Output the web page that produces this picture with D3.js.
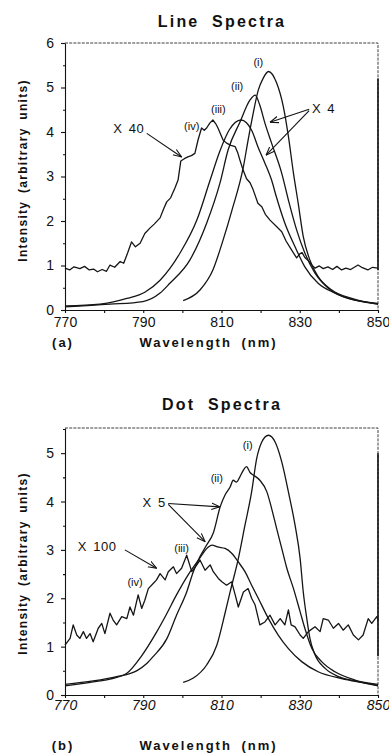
<!DOCTYPE html>
<html>
<head>
<meta charset="utf-8">
<script src="https://cdn.jsdelivr.net/npm/d3@7"></script>
<style>
  body { margin: 0; background: #fff; }
  svg { display: block; font-family: "Liberation Sans", Arial, Helvetica, sans-serif; }
  .curve { fill: none; stroke: #151515; stroke-width: 1.3; stroke-linejoin: round; }
  .axis path, .axis line { stroke: #111; stroke-width: 1.1; }
  .axis text { font-size: 14px; fill: #111; }
  .frame { fill: none; stroke: #2a2a2a; stroke-width: 0.9; stroke-dasharray: 3,1.2; }
  .edge-band { stroke: #111; stroke-width: 1.6; }
  .title { font-size: 16px; font-weight: bold; letter-spacing: 2.2px; word-spacing: 6px; fill: #111; }
  .axis-title { font-size: 13px; font-weight: bold; letter-spacing: 2px; word-spacing: 4px; fill: #111; }
  .y-title { font-size: 12px; font-weight: bold; letter-spacing: 1.3px; word-spacing: 3px; fill: #111; }
  .curve-label { font-size: 11px; fill: #111; }
  .factor { font-size: 13px; letter-spacing: 0.6px; word-spacing: 2px; fill: #111; }
  .arrow { stroke: #111; stroke-width: 1.1; fill: none; }
</style>
</head>
<body>
<div id="chart"></div>
<script>

// axis ticks
const xTicks = [770, 790, 810, 830, 850];
const xMinorTicks = [780, 800, 820, 840];
const lineYTicks = [0, 1, 2, 3, 4, 5, 6];
const dotYTicks = [0, 1, 2, 3, 4, 5];
const halfTicks = [0.5, 1.5, 2.5, 3.5, 4.5, 5.5];

// (a) Line spectra, [wavelength nm, intensity]
const lineCurveI = [
  [800.2, 0.21], [804.5, 0.45], [807.8, 0.90], [810.4, 1.57], [812.7, 2.25], [815.6, 3.22],
  [816.8, 3.82], [818.1, 4.42], [819.4, 4.94], [820.6, 5.20], [822.0, 5.36], [824.1, 5.10],
  [825.8, 4.57], [827.1, 3.90], [828.4, 3.07], [829.6, 2.40], [830.9, 1.65], [832.6, 1.12],
  [834.7, 0.75], [838.2, 0.45], [843.3, 0.26], [850.0, 0.13]
];
const lineCurveII = [
  [770.0, 0.07], [781.5, 0.13], [789.9, 0.19], [794.3, 0.38], [796.8, 0.60], [801.9, 1.12],
  [806.2, 1.95], [809.6, 2.85], [811.7, 3.60], [814.7, 4.22], [817.3, 4.72], [818.6, 4.83],
  [819.8, 4.60], [821.1, 4.20], [822.8, 3.75], [825.4, 3.07], [827.1, 2.47], [829.2, 1.80],
  [831.3, 1.28], [833.9, 0.83], [837.3, 0.49], [842.4, 0.26], [850.0, 0.15]
];
const lineCurveIII = [
  [770.0, 0.09], [778.9, 0.13], [785.8, 0.26], [790.4, 0.40], [794.3, 0.67], [799.4, 1.28],
  [803.7, 2.02], [807.1, 2.92], [809.5, 3.55], [812.0, 4.05], [815.0, 4.27], [817.7, 4.04],
  [819.3, 3.67], [821.1, 3.30], [822.8, 2.92], [824.0, 2.55], [826.2, 1.95], [828.8, 1.42],
  [831.3, 0.97], [834.7, 0.60], [839.0, 0.38], [844.1, 0.22], [850.0, 0.13]
];
const lineCurveIV = [
  [770.0, 0.94], [771.2, 0.90], [772.3, 0.97], [773.8, 0.93], [775.0, 0.98], [776.2, 0.90],
  [777.3, 0.92], [778.3, 0.86], [779.5, 0.91], [780.6, 0.87], [781.5, 1.01], [782.7, 0.96],
  [784.1, 1.09], [785.0, 1.05], [786.0, 1.28], [787.0, 1.53], [788.0, 1.42], [789.2, 1.50],
  [790.4, 1.72], [791.7, 1.84], [792.8, 1.93], [794.3, 2.07], [795.2, 2.27], [796.0, 2.43],
  [797.0, 2.52], [798.1, 2.74], [798.9, 2.92], [799.6, 3.35], [800.5, 3.40], [801.4, 3.44],
  [802.3, 3.47], [803.2, 3.52], [804.0, 3.82], [804.9, 4.09], [805.6, 4.04], [806.2, 4.09],
  [807.0, 4.20], [807.8, 4.27], [808.5, 4.19], [809.1, 4.09], [810.4, 3.82], [811.3, 3.75],
  [812.4, 3.70], [813.5, 3.67], [814.2, 3.52], [814.7, 3.37], [815.5, 3.15], [816.4, 2.95],
  [817.3, 2.86], [818.1, 2.70], [819.3, 2.40], [820.3, 2.32], [821.2, 2.15], [822.4, 2.02],
  [823.8, 1.90], [825.4, 1.76], [826.5, 1.55], [827.9, 1.35], [829.2, 1.17], [830.0, 1.26],
  [830.6, 1.29], [831.3, 1.18], [832.1, 1.12], [833.0, 1.02], [833.9, 0.94], [835.0, 0.99],
  [836.0, 0.93], [837.2, 0.97], [838.4, 0.91], [839.5, 0.98], [840.7, 0.90], [841.8, 0.94],
  [843.0, 0.91], [844.9, 1.01], [846.0, 0.95], [847.4, 0.90], [848.6, 0.96], [850.0, 0.94]
];

// (b) Dot spectra
const dotCurveI = [
  [800.2, 0.26], [802.8, 0.35], [806.2, 0.62], [808.8, 1.03], [810.9, 1.69], [812.2, 2.13],
  [814.3, 2.82], [816.0, 3.51], [817.7, 4.20], [819.0, 4.89], [820.3, 5.23], [822.0, 5.37],
  [823.7, 5.23], [825.4, 4.82], [827.1, 4.20], [828.8, 3.51], [830.1, 2.82], [830.9, 2.13],
  [831.8, 1.58], [832.6, 1.17], [833.9, 0.83], [836.5, 0.55], [839.9, 0.38], [844.1, 0.29],
  [850.0, 0.19]
];
const dotCurveII = [
  [770.0, 0.22], [777.2, 0.29], [783.2, 0.38], [788.3, 0.50], [790.9, 0.65], [792.6, 0.80],
  [796.0, 1.16], [798.5, 1.65], [801.1, 2.13], [802.8, 2.55], [804.5, 2.86], [806.2, 3.10],
  [807.9, 3.35], [809.7, 3.90], [811.0, 4.15], [812.2, 4.30], [813.0, 4.44], [813.8, 4.40],
  [814.7, 4.51], [815.6, 4.65], [816.4, 4.72], [817.3, 4.60], [818.1, 4.55], [819.8, 4.44],
  [821.6, 4.20], [822.8, 3.86], [824.1, 3.44], [825.4, 3.03], [826.7, 2.62], [828.4, 2.20],
  [830.1, 1.72], [831.3, 1.38], [833.1, 0.96], [835.6, 0.69], [839.0, 0.48], [844.1, 0.31],
  [850.0, 0.22]
];
const dotCurveIII = [
  [770.0, 0.19], [773.8, 0.23], [778.9, 0.29], [781.5, 0.33], [785.8, 0.45], [789.5, 0.80],
  [793.4, 1.30], [795.8, 1.65], [798.5, 2.07], [801.6, 2.50], [804.2, 2.80], [806.5, 3.05],
  [807.6, 3.10], [809.0, 3.06], [810.9, 3.03], [812.6, 2.93], [814.3, 2.75], [816.0, 2.55],
  [817.7, 2.27], [819.4, 2.00], [822.0, 1.58], [824.5, 1.24], [827.1, 0.96], [830.5, 0.69],
  [834.7, 0.48], [840.7, 0.34], [845.8, 0.26], [850.0, 0.20]
];
const dotCurveIV = [
  [770.0, 1.03], [771.3, 1.17], [772.1, 1.45], [773.0, 1.24], [773.8, 1.17], [774.7, 1.31],
  [775.5, 1.17], [776.4, 1.27], [777.2, 1.10], [778.5, 1.38], [779.4, 1.48], [780.2, 1.27],
  [781.5, 1.69], [782.3, 1.55], [783.2, 1.45], [784.5, 1.62], [785.8, 1.58], [786.6, 1.82],
  [787.5, 1.65], [788.7, 2.07], [789.6, 1.79], [790.4, 1.96], [791.3, 2.20], [792.6, 2.31],
  [793.4, 2.38], [794.3, 2.51], [795.6, 2.38], [796.4, 2.55], [797.7, 2.65], [798.5, 2.51],
  [799.8, 2.62], [801.1, 2.89], [802.4, 2.55], [803.7, 2.69], [804.5, 2.79], [805.8, 2.58],
  [807.1, 2.69], [807.9, 2.55], [809.2, 2.41], [810.1, 2.34], [811.3, 2.27], [812.6, 2.34],
  [813.5, 2.07], [814.3, 1.82], [815.6, 2.13], [816.8, 2.20], [817.7, 2.00], [818.6, 1.86],
  [819.8, 1.45], [821.1, 1.51], [822.4, 1.65], [823.7, 1.45], [825.0, 1.58], [826.2, 1.45],
  [827.1, 1.76], [827.8, 1.45], [828.8, 1.41], [830.1, 1.24], [830.9, 1.17], [832.2, 1.31],
  [833.9, 1.41], [835.2, 1.31], [836.0, 1.58], [837.3, 1.55], [838.6, 1.38], [839.9, 1.48],
  [841.1, 1.34], [842.4, 1.45], [843.7, 1.24], [845.0, 1.14], [846.2, 1.24], [847.5, 1.58],
  [848.4, 1.48], [849.7, 1.62], [850.0, 1.55]
];

// annotations, anchored in data units [nm, intensity]
const curveNames = ['(i)', '(ii)', '(iii)', '(iv)'];
const lineLabelAt = [[819.4, 5.58], [814.0, 5.03], [809.2, 4.51], [802.4, 4.13]];
const dotLabelAt = [[816.7, 5.17], [808.8, 4.48], [799.8, 3.03], [787.9, 2.34]];
const lineFactors = [
  {text: 'X 40', at: [790.3, 4.07], anchor: 'end'},
  {text: 'X 4', at: [833.1, 4.54], anchor: 'start'}
];
const dotFactors = [
  {text: 'X 5', at: [795.8, 3.99], anchor: 'end'},
  {text: 'X 100', at: [783.2, 3.07], anchor: 'end'}
];
const lineArrows = [
  [[790.9, 3.97], [799.8, 3.44]],
  [[832.4, 4.51], [822.4, 4.22]],
  [[832.4, 4.48], [821.4, 3.48]]
];
const dotArrows = [
  [[796.4, 3.96], [809.6, 3.89]],
  [[796.4, 3.94], [805.8, 3.17]],
  [[785.3, 3.00], [793.4, 2.62]]
];

const config = {
  width: 389,
  height: 754,
  plot: {left: 65, width: 313, height: 267},
  yLabelOffset: -43
};

const panels = [
  {
    top: 43, yDomain: [0, 6], yTicks: lineYTicks, title: 'Line Spectra', tag: '(a)',
    curves: [lineCurveI, lineCurveII, lineCurveIII, lineCurveIV],
    labelAt: lineLabelAt, factors: lineFactors, arrows: lineArrows,
    titleY: -16.3, tickPad: 3.8, xTitleY: 36.5, band: [5.2, 0.9], italic: false, yTitleShift: -6
  },
  {
    top: 428, yDomain: [0, 5.52], yTicks: dotYTicks, title: 'Dot Spectra', tag: '(b)',
    curves: [dotCurveI, dotCurveII, dotCurveIII, dotCurveIV],
    labelAt: dotLabelAt, factors: dotFactors, arrows: dotArrows,
    titleY: -18, tickPad: 2, xTitleY: 55, band: [5.0, 0.8], italic: true, yTitleShift: 2
  }
];

const svg = d3.select('#chart').append('svg')
  .attr('width', config.width)
  .attr('height', config.height);

svg.append('defs').append('marker')
  .attr('id', 'arrowhead')
  .attr('viewBox', '0 -4 9 8')
  .attr('refX', 8.5)
  .attr('refY', 0)
  .attr('markerWidth', 9)
  .attr('markerHeight', 8)
  .attr('markerUnits', 'userSpaceOnUse')
  .attr('orient', 'auto')
  .append('path')
  .attr('d', 'M0,-3.2L8.5,0L0,3.2')
  .attr('fill', 'none')
  .attr('stroke', '#111')
  .attr('stroke-width', 1.1);

panels.forEach(drawPanel);

function drawPanel(p) {
  const w = config.plot.width;
  const h = config.plot.height;
  const g = svg.append('g')
    .attr('transform', `translate(${config.plot.left},${p.top})`);

  const x = d3.scaleLinear().domain([770, 850]).range([0, w]);
  const y = d3.scaleLinear().domain(p.yDomain).range([h, 0]);

  // top and right edges of the box
  g.append('path').attr('class', 'frame').attr('d', `M0,0H${w}V${h}`);
  g.append('line').attr('class', 'edge-band')
    .attr('x1', w).attr('x2', w)
    .attr('y1', y(p.band[0])).attr('y2', y(p.band[1]));

  // minor ticks first, major axes over them
  g.append('g').attr('class', 'axis')
    .call(d3.axisLeft(y).tickValues(halfTicks.filter(d => d < p.yDomain[1])).tickSize(2).tickFormat(''))
    .select('.domain').remove();
  g.append('g').attr('class', 'axis')
    .attr('transform', `translate(0,${h})`)
    .call(d3.axisBottom(x).tickValues(xMinorTicks).tickSize(3).tickFormat(''))
    .select('.domain').remove();

  g.append('g').attr('class', 'axis')
    .call(d3.axisLeft(y).tickValues(p.yTicks).tickSize(4).tickSizeOuter(0).tickPadding(7).tickFormat(d3.format('d')));
  const xAxis = g.append('g').attr('class', 'axis')
    .attr('transform', `translate(0,${h})`)
    .call(d3.axisBottom(x).tickValues(xTicks).tickSize(3).tickSizeOuter(0).tickPadding(p.tickPad).tickFormat(d3.format('d')));
  if (p.italic) {
    xAxis.selectAll('text').style('font-style', 'italic');
  }

  // curves
  const smooth = d3.line().x(d => x(d[0])).y(d => y(d[1])).curve(d3.curveMonotoneX);
  const rough = d3.line().x(d => x(d[0])).y(d => y(d[1]));
  p.curves.forEach((c, i) => {
    g.append('path')
      .attr('class', 'curve')
      .datum(c)
      .attr('d', i === 3 ? rough : smooth);
  });

  // labels and arrows
  g.selectAll('text.curve-label')
    .data(p.labelAt)
    .join('text')
    .attr('class', 'curve-label')
    .attr('x', d => x(d[0]))
    .attr('y', d => y(d[1]))
    .attr('dy', '0.35em')
    .attr('text-anchor', 'middle')
    .text((d, i) => curveNames[i]);

  g.selectAll('text.factor')
    .data(p.factors)
    .join('text')
    .attr('class', 'factor')
    .attr('x', d => x(d.at[0]))
    .attr('y', d => y(d.at[1]))
    .attr('dy', '0.35em')
    .attr('text-anchor', d => d.anchor)
    .text(d => d.text);

  g.selectAll('line.arrow')
    .data(p.arrows)
    .join('line')
    .attr('class', 'arrow')
    .attr('x1', d => x(d[0][0])).attr('y1', d => y(d[0][1]))
    .attr('x2', d => x(d[1][0])).attr('y2', d => y(d[1][1]))
    .attr('marker-end', 'url(#arrowhead)');

  // titles
  g.append('text').attr('class', 'title')
    .attr('x', w / 2 + 0.5)
    .attr('y', p.titleY)
    .attr('text-anchor', 'middle')
    .text(p.title);
  g.append('text').attr('class', 'axis-title')
    .attr('x', w / 2 - 13)
    .attr('y', h + p.xTitleY)
    .attr('text-anchor', 'middle')
    .text('Wavelength (nm)');
  g.append('text').attr('class', 'axis-title')
    .attr('x', -2)
    .attr('y', h + p.xTitleY)
    .attr('text-anchor', 'middle')
    .text(p.tag);
  g.append('text').attr('class', 'y-title')
    .attr('transform', `translate(${config.yLabelOffset + 4.5},${h / 2 + p.yTitleShift}) rotate(-90)`)
    .attr('text-anchor', 'middle')
    .text('Intensity (arbitrary units)');
}
</script>
</body>
</html>
